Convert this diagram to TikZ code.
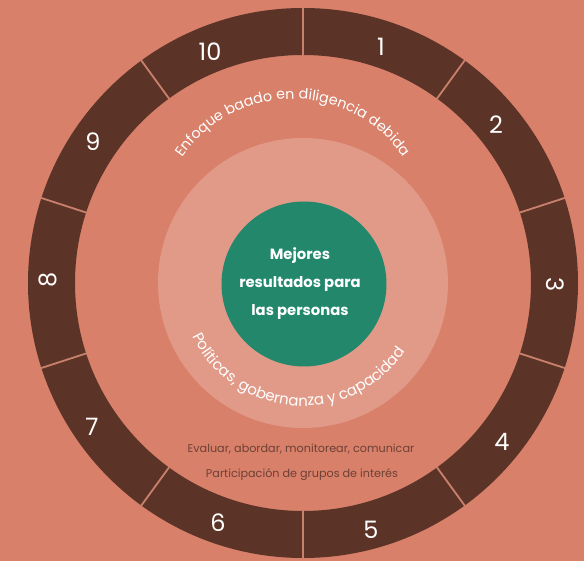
\documentclass[tikz,border=0pt]{standalone}
\usepackage{fontspec}
\setmainfont{Poppins}
\usetikzlibrary{decorations.text}
\definecolor{bgc}{HTML}{D8806A}
\definecolor{ringc}{HTML}{5C3427}
\definecolor{divc}{HTML}{C9806C}
\definecolor{lightc}{HTML}{E29A88}
\definecolor{greenc}{HTML}{22876B}
\definecolor{txtc}{HTML}{6E4035}
\begin{document}
\begin{tikzpicture}[x=1pt,y=1pt,
  num/.style={text=white, font=\fontsize{24}{24}\selectfont, inner sep=0pt},
  note/.style={text=txtc, font=\fontsize{11.2}{12}\selectfont, inner sep=0pt, anchor=base}]
\fill[bgc] (-303,-278) rectangle (281,283);
\useasboundingbox (-303,-278) rectangle (281,283);
% ring
\fill[ringc, even odd rule] (0,0) circle[radius=275] (0,0) circle[radius=228];
\foreach \a in {0,...,9} \draw[divc, line width=1.8pt] (90+36*\a:227) -- (90+36*\a:276);
% circles
\node[circle, fill=lightc, minimum size=290pt, inner sep=0pt] (mid) at (0,0) {};
\node[circle, fill=greenc, minimum size=165pt, inner sep=0pt] (core) at (1,-1) {};
\node[text=white, font=\bfseries\fontsize{14.8}{28}\selectfont, align=center, inner sep=0pt] (coretext) at (-3,-1) {Mejores\\resultados para\\las personas};
% numbers
\node[num] (n1) at (78,236) {1};
\node[num] (n2) at (193,158) {2};
\node[num, rotate=-90] (n3) at (252,-2) {3};
\node[num] (n4) at (199,-159) {4};
\node[num] (n5) at (68,-247) {5};
\node[num] (n6) at (-85,-240) {6};
\node[num] (n7) at (-211,-144) {7};
\node[num, rotate=90] (n8) at (-255,3) {8};
\node[num] (n9) at (-210,141) {9};
\node[num] (n10) at (-93,231) {10};
% curved texts
\path[decorate, decoration={text along path, text align=center, text color=white,
  text={|\fontsize{14.3}{15}\selectfont|Enfoque baado en diligencia debida}}]
  ([shift={(-10,50)}]165:134) arc[start angle=165, end angle=15, radius=134];
\path[decorate, decoration={text along path, text align=center, text color=white,
  text={|\fontsize{15}{16}\selectfont|Políticas, gobernanza y capacidad}}]
  (-170:123) arc[start angle=-170, end angle=-18, radius=123];
% notes
\node[note] (e1) at (-2,-170) {Evaluar, abordar, monitorear, comunicar};
\node[note] (e2) at (-1,-195) {Participación de grupos de interés};
\end{tikzpicture}
\end{document}
